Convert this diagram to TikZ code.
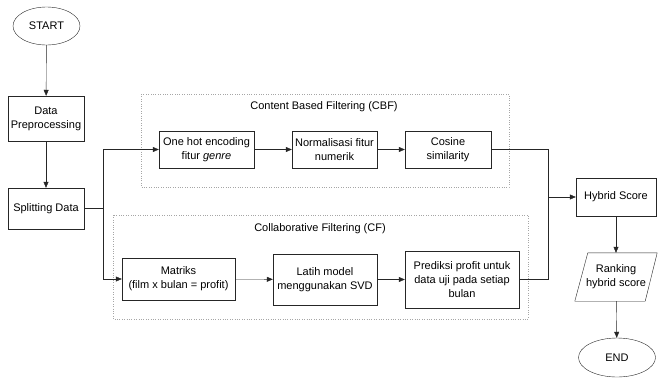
\documentclass[tikz,border=0pt]{standalone}
\usepackage{fontspec}
\setmainfont{Liberation Sans}
\usetikzlibrary{shapes.geometric,arrows.meta}
\tikzset{
  txt/.style={font=\fontsize{11}{14}\selectfont},
  box/.style={txt,draw=black!85,rectangle,align=center,inner xsep=1pt},
  term/.style={txt,draw=black!85,ellipse},
  io/.style={txt,rectangle,align=center,inner xsep=0pt},
  group/.style={draw=black!35,dotted},
  flow/.style={draw=black!85,-{Triangle[length=6pt,width=5pt]}}
}
\begin{document}
\begin{tikzpicture}[x=1pt,y=-1pt]
      \useasboundingbox (0,0) rectangle (658,389);
      % groups
      \draw[group] (141,94) rectangle (509,187);
      \draw[group] (113,215) rectangle (528,319);
      \node[txt] (cbf) at (324,107) {Content Based Filtering (CBF)};
      \node[txt] (cf) at (320,229) {Collaborative Filtering (CF)};
      % nodes
      \node[term,minimum width=67,minimum height=38] (start) at (46.5,26) {START};
      \node[box,minimum width=76,minimum height=45] (prep) at (46,118.5) {Data\\Preprocessing};
      \node[box,minimum width=76,minimum height=41] (split) at (46,208.5) {Splitting Data};
      \node[box,minimum width=95,minimum height=37] (onehot) at (206.5,149.5) {One hot encoding\\fitur \textit{genre}};
      \node[box,minimum width=85,minimum height=37] (norm) at (334.5,149.5) {Normalisasi fitur\\numerik};
      \node[box,minimum width=86,minimum height=37] (cosine) at (448,149.5) {Cosine\\similarity};
      \node[box,minimum width=113,minimum height=42] (matriks) at (178.5,279) {Matriks\\(film x bulan = profit)};
      \node[box,minimum width=104,minimum height=51] (latih) at (325,279.5) {Latih model\\menggunakan SVD};
      \node[box,minimum width=114,minimum height=57] (prediksi) at (462,279.5) {Prediksi profit untuk\\data uji pada setiap\\bulan};
      \node[box,minimum width=80,minimum height=38] (hybrid) at (616,197) {Hybrid Score};
      \node[io,minimum width=70,minimum height=48] (rank) at (616,277) {Ranking\\hybrid score};
      \draw[draw=black!85] ([xshift=-6]rank.south west) -- ([xshift=7]rank.north west)
        -- ([xshift=6]rank.north east) -- ([xshift=-6]rank.south east) -- cycle;
      \node[term,minimum width=77,minimum height=39] (end) at (617,357.5) {END};
      \coordinate (fork) at (103,208.5);
      \coordinate (join) at (548,197);
      % connectors
      \begin{scope}[flow]
        \draw (start) to (prep);
        \draw (prep) to (split);
        \draw[-] (split) to (fork);
        \draw (fork) |- (onehot);
        \draw (fork) |- (matriks);
        \draw (onehot) to (norm);
        \draw (norm) to (cosine);
        \draw (matriks) to (latih);
        \draw (latih) to (prediksi);
        \draw[-] (cosine) -| (join);
        \draw[-] (prediksi) -| (join);
        \draw (join) to (hybrid);
        \draw (hybrid) to (rank);
        \draw (rank) to (end);
      \end{scope}
    \end{tikzpicture}
\end{document}
